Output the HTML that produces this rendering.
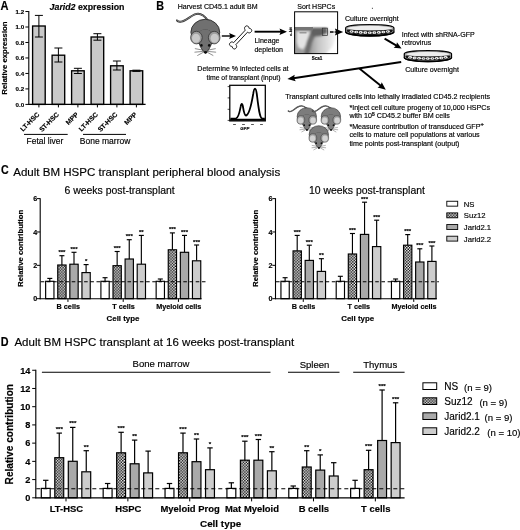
<!DOCTYPE html>
<html lang="en"><head><meta charset="utf-8"><title>Figure: Jarid2 expression and HSPC transplant analysis</title>
<style>html,body{margin:0;padding:0;background:#fff;}body{width:520px;height:530px;overflow:hidden;}svg{display:block;}svg text{font-family:"Liberation Sans", sans-serif;fill:#000;stroke:#000;stroke-width:0.16px;}</style></head><body>
<svg width="520" height="530" viewBox="0 0 520 530">
<defs><pattern id="chk" width="2.84" height="2.84" patternUnits="userSpaceOnUse"><rect width="2.84" height="2.84" fill="#fff"/><rect x="0" y="0" width="1.42" height="1.42" fill="#000"/><rect x="1.42" y="1.42" width="1.42" height="1.42" fill="#000"/></pattern><filter id="blur1" x="-10%" y="-10%" width="120%" height="120%"><feGaussianBlur stdDeviation="1.0"/></filter><filter id="blur0" x="-10%" y="-50%" width="120%" height="200%"><feGaussianBlur stdDeviation="0.55"/></filter><filter id="soft" x="0" y="0" width="520" height="530" filterUnits="userSpaceOnUse"><feGaussianBlur stdDeviation="0.38"/></filter></defs>
<rect width="520" height="530" fill="#fff"/>
<g filter="url(#soft)">
<g id="panelA">
<text x="0.40" y="9.50" font-size="12.2" font-weight="bold" stroke="#000" stroke-width="0.3" textLength="8.00" lengthAdjust="spacingAndGlyphs">A</text>
<text x="49.6" y="9.6" font-size="8.8" font-weight="bold"><tspan font-style="italic">Jarid2</tspan> expression</text>
<rect x="32.60" y="26.00" width="12.60" height="78.40" fill="#c9c9c9" stroke="#000" stroke-width="1.35"/>
<line x1="38.90" y1="15.40" x2="38.90" y2="37.00" stroke="#000" stroke-width="1.0" />
<line x1="34.90" y1="15.40" x2="42.90" y2="15.40" stroke="#000" stroke-width="1.0" />
<line x1="34.90" y1="37.00" x2="42.90" y2="37.00" stroke="#000" stroke-width="1.0" />
<line x1="38.90" y1="104.40" x2="38.90" y2="107.40" stroke="#000" stroke-width="1.0" />
<text transform="translate(39.80,115.00) rotate(-45)" font-size="6.7" font-weight="bold" stroke="#000" stroke-width="0.3" text-anchor="end">LT-HSC</text>
<rect x="52.10" y="55.20" width="12.60" height="49.20" fill="#c9c9c9" stroke="#000" stroke-width="1.35"/>
<line x1="58.40" y1="48.00" x2="58.40" y2="62.00" stroke="#000" stroke-width="1.0" />
<line x1="54.40" y1="48.00" x2="62.40" y2="48.00" stroke="#000" stroke-width="1.0" />
<line x1="54.40" y1="62.00" x2="62.40" y2="62.00" stroke="#000" stroke-width="1.0" />
<line x1="58.40" y1="104.40" x2="58.40" y2="107.40" stroke="#000" stroke-width="1.0" />
<text transform="translate(59.30,115.00) rotate(-45)" font-size="6.7" font-weight="bold" stroke="#000" stroke-width="0.3" text-anchor="end">ST-HSC</text>
<rect x="71.60" y="70.80" width="12.60" height="33.60" fill="#c9c9c9" stroke="#000" stroke-width="1.35"/>
<line x1="77.90" y1="68.30" x2="77.90" y2="73.50" stroke="#000" stroke-width="1.0" />
<line x1="73.90" y1="68.30" x2="81.90" y2="68.30" stroke="#000" stroke-width="1.0" />
<line x1="73.90" y1="73.50" x2="81.90" y2="73.50" stroke="#000" stroke-width="1.0" />
<line x1="77.90" y1="104.40" x2="77.90" y2="107.40" stroke="#000" stroke-width="1.0" />
<text transform="translate(78.80,115.00) rotate(-45)" font-size="6.7" font-weight="bold" stroke="#000" stroke-width="0.3" text-anchor="end">MPP</text>
<rect x="91.10" y="37.00" width="12.60" height="67.40" fill="#c9c9c9" stroke="#000" stroke-width="1.35"/>
<line x1="97.40" y1="33.70" x2="97.40" y2="40.20" stroke="#000" stroke-width="1.0" />
<line x1="93.40" y1="33.70" x2="101.40" y2="33.70" stroke="#000" stroke-width="1.0" />
<line x1="93.40" y1="40.20" x2="101.40" y2="40.20" stroke="#000" stroke-width="1.0" />
<line x1="97.40" y1="104.40" x2="97.40" y2="107.40" stroke="#000" stroke-width="1.0" />
<text transform="translate(98.30,115.00) rotate(-45)" font-size="6.7" font-weight="bold" stroke="#000" stroke-width="0.3" text-anchor="end">LT-HSC</text>
<rect x="110.60" y="65.80" width="12.60" height="38.60" fill="#c9c9c9" stroke="#000" stroke-width="1.35"/>
<line x1="116.90" y1="61.00" x2="116.90" y2="70.00" stroke="#000" stroke-width="1.0" />
<line x1="112.90" y1="61.00" x2="120.90" y2="61.00" stroke="#000" stroke-width="1.0" />
<line x1="112.90" y1="70.00" x2="120.90" y2="70.00" stroke="#000" stroke-width="1.0" />
<line x1="116.90" y1="104.40" x2="116.90" y2="107.40" stroke="#000" stroke-width="1.0" />
<text transform="translate(117.80,115.00) rotate(-45)" font-size="6.7" font-weight="bold" stroke="#000" stroke-width="0.3" text-anchor="end">ST-HSC</text>
<rect x="130.10" y="70.80" width="12.60" height="33.60" fill="#c9c9c9" stroke="#000" stroke-width="1.35"/>
<line x1="136.40" y1="70.20" x2="136.40" y2="71.40" stroke="#000" stroke-width="1.0" />
<line x1="132.40" y1="70.20" x2="140.40" y2="70.20" stroke="#000" stroke-width="1.0" />
<line x1="132.40" y1="71.40" x2="140.40" y2="71.40" stroke="#000" stroke-width="1.0" />
<line x1="136.40" y1="104.40" x2="136.40" y2="107.40" stroke="#000" stroke-width="1.0" />
<text transform="translate(137.30,115.00) rotate(-45)" font-size="6.7" font-weight="bold" stroke="#000" stroke-width="0.3" text-anchor="end">MPP</text>
<line x1="28.80" y1="11.00" x2="28.80" y2="104.90" stroke="#000" stroke-width="1.1" />
<line x1="28.30" y1="104.40" x2="145.60" y2="104.40" stroke="#000" stroke-width="1.1" />
<line x1="25.40" y1="104.40" x2="28.80" y2="104.40" stroke="#000" stroke-width="1.0" />
<text x="24.20" y="106.60" font-size="6.2" font-weight="bold" stroke="#000" stroke-width="0.3" text-anchor="end">0.0</text>
<line x1="25.40" y1="88.92" x2="28.80" y2="88.92" stroke="#000" stroke-width="1.0" />
<text x="24.20" y="91.12" font-size="6.2" font-weight="bold" stroke="#000" stroke-width="0.3" text-anchor="end">0.2</text>
<line x1="25.40" y1="73.44" x2="28.80" y2="73.44" stroke="#000" stroke-width="1.0" />
<text x="24.20" y="75.64" font-size="6.2" font-weight="bold" stroke="#000" stroke-width="0.3" text-anchor="end">0.4</text>
<line x1="25.40" y1="57.96" x2="28.80" y2="57.96" stroke="#000" stroke-width="1.0" />
<text x="24.20" y="60.16" font-size="6.2" font-weight="bold" stroke="#000" stroke-width="0.3" text-anchor="end">0.6</text>
<line x1="25.40" y1="42.48" x2="28.80" y2="42.48" stroke="#000" stroke-width="1.0" />
<text x="24.20" y="44.68" font-size="6.2" font-weight="bold" stroke="#000" stroke-width="0.3" text-anchor="end">0.8</text>
<line x1="25.40" y1="27.00" x2="28.80" y2="27.00" stroke="#000" stroke-width="1.0" />
<text x="24.20" y="29.20" font-size="6.2" font-weight="bold" stroke="#000" stroke-width="0.3" text-anchor="end">1.0</text>
<line x1="25.40" y1="11.52" x2="28.80" y2="11.52" stroke="#000" stroke-width="1.0" />
<text x="24.20" y="13.72" font-size="6.2" font-weight="bold" stroke="#000" stroke-width="0.3" text-anchor="end">1.2</text>
<text transform="translate(6.5,58) rotate(-90)" font-size="7.8" font-weight="bold" stroke="#000" stroke-width="0.3" text-anchor="middle">Relative expression</text>
<line x1="24.00" y1="134.40" x2="67.70" y2="134.40" stroke="#000" stroke-width="1.0" />
<line x1="83.00" y1="134.40" x2="126.00" y2="134.40" stroke="#000" stroke-width="1.0" />
<text x="26.50" y="143.60" font-size="8.5">Fetal liver</text>
<text x="79.80" y="143.60" font-size="8.5">Bone marrow</text>
</g>
<g id="panelB">
<text x="156.20" y="9.50" font-size="12.2" font-weight="bold" stroke="#000" stroke-width="0.3" textLength="7.80" lengthAdjust="spacingAndGlyphs">B</text>
<text x="177.70" y="8.90" font-size="7.05">Harvest CD45.1 adult BM</text>
<g transform="translate(205.30,33.00) scale(1.0)">
<path d="M2.5,-12.6 C-1,-17.5 -6,-20.6 -10.5,-18.6 C-16,-16 -19.5,-12.2 -24,-11.4 C-26,-11.0 -27.6,-11.4 -28.4,-12.6" fill="none" stroke="#2a2a2a" stroke-width="1.9" stroke-linecap="round"/>
<path d="M2.5,-12.6 C-1,-17.5 -6,-20.6 -10.5,-18.6 C-16,-16 -19.5,-12.2 -24,-11.4 C-26,-11.0 -27.6,-11.4 -28.4,-12.6" fill="none" stroke="#9a9a9a" stroke-width="0.8" stroke-linecap="round"/>
<ellipse cx="0" cy="-0.8" rx="14.4" ry="12.9" fill="#707070" stroke="#2a2a2a" stroke-width="0.9"/>
<path d="M-6.6,1.5 C-6.6,-4.5 6.6,-4.5 6.6,1.5 C7.6,8 6,14.5 0.2,20.6 C-6,14.5 -7.6,8 -6.6,1.5 Z" fill="#707070" stroke="#2a2a2a" stroke-width="0.8"/>
<path d="M-6.0,-0.5 C-5,-4.6 5,-4.6 6.0,-0.5 L5,3 L-5,3 Z" fill="#707070"/>
<ellipse cx="-8.9" cy="4.6" rx="5.8" ry="6.3" fill="#9c9c9c" stroke="#2a2a2a" stroke-width="0.7"/>
<ellipse cx="-9.3" cy="5.3" rx="4.0" ry="4.5" fill="#c9c9c9"/>
<ellipse cx="8.9" cy="4.6" rx="5.8" ry="6.3" fill="#9c9c9c" stroke="#2a2a2a" stroke-width="0.7"/>
<ellipse cx="9.3" cy="5.3" rx="4.0" ry="4.5" fill="#c9c9c9"/>
<circle cx="-3.9" cy="12.4" r="1.3" fill="#111"/><circle cx="3.9" cy="12.4" r="1.3" fill="#111"/>
<ellipse cx="0.2" cy="19.2" rx="1.7" ry="1.3" fill="#111"/>
<path d="M-2.2,17.2 L-10.4,15.6 M-2.2,18.4 L-10.8,19.2 M-2.2,19.4 L-8.0,22.6" stroke="#333" stroke-width="0.55" fill="none"/>
<path d="M2.2,17.2 L10.4,15.6 M2.2,18.4 L10.8,19.2 M2.2,19.4 L8.0,22.6" stroke="#333" stroke-width="0.55" fill="none"/>
</g>
<line x1="221.80" y1="36.00" x2="231.00" y2="36.00" stroke="#000" stroke-width="1.4" />
<polygon points="236.00,36.00 229.10,39.00 230.30,36.00 229.10,33.00" fill="#000"/>
<g transform="translate(240.6,37.4) rotate(-47) scale(0.9,0.88)"><path d="M-9.6,-1.7 L9.6,-1.7 C9.4,-5.6 15.6,-5.4 14.6,-1.6 C14.3,-0.6 13.8,0 13.8,0 C13.8,0 14.3,0.6 14.6,1.6 C15.6,5.4 9.4,5.6 9.6,1.7 L-9.6,1.7 C-9.4,5.6 -15.6,5.4 -14.6,1.6 C-14.3,0.6 -13.8,0 -13.8,0 C-13.8,0 -14.3,-0.6 -14.6,-1.6 C-15.6,-5.4 -9.4,-5.6 -9.6,-1.7 Z" fill="#fff" stroke="#111" stroke-width="1.0"/></g>
<line x1="254.60" y1="31.70" x2="281.40" y2="31.70" stroke="#000" stroke-width="1.9" />
<polygon points="287.00,31.70 279.50,34.90 280.70,31.70 279.50,28.50" fill="#000"/>
<text x="254.40" y="43.40" font-size="7.05">Lineage</text>
<text x="254.40" y="52.10" font-size="7.05">depletion</text>
<text x="297.20" y="9.20" font-size="7.05">Sort HSPCs</text>
<clipPath id="fc"><rect x="294.6" y="26.4" width="43.00" height="26.90"/></clipPath>
<linearGradient id="fg" x1="311" y1="0" x2="336" y2="0" gradientUnits="userSpaceOnUse"><stop offset="0" stop-color="#a0a0a0"/><stop offset="0.3" stop-color="#c6c6c6"/><stop offset="1" stop-color="#f6f6f6"/></linearGradient>
<g clip-path="url(#fc)"><g filter="url(#blur1)">
<polygon points="312,31 334,30 336,38 332,47 325,55 306,55" fill="url(#fg)"/>
<polygon points="293,28 313,28 307,55 293,55" fill="#9c9c9c"/>
<polygon points="296.8,31.6 310,31.8 306.4,44 303,49.6 298.4,47.6 296.8,42" fill="#e4e4e4"/>
<polygon points="310.8,32 316.6,33 312.4,42 309.0,55 304.0,55 306.6,42" fill="#6e6e6e"/>
<polygon points="312,27.4 327,27.4 327.6,33 321,36.2 313,36.8 310.6,32" fill="#606060"/>
</g>
<g filter="url(#blur0)">
<rect x="293" y="27.0" width="20" height="3.3" fill="#757575"/>
<rect x="299.5" y="32.2" width="7" height="1.2" fill="#8a8a8a"/>
</g></g>
<rect x="294.60" y="11.80" width="43.00" height="41.80" fill="none" stroke="#000" stroke-width="1.0"/>
<rect x="322.30" y="28.20" width="5.20" height="7.20" fill="none" stroke="#333" stroke-width="0.7"/>
<text transform="translate(292.0,31.7) rotate(-90)" font-size="4.2" font-weight="bold" text-anchor="middle">c-kit</text>
<text x="316.90" y="60.30" font-size="4.5" font-weight="bold" stroke="#000" stroke-width="0.3" text-anchor="middle">Sca1</text>
<line x1="330.00" y1="32.10" x2="336.80" y2="32.10" stroke="#000" stroke-width="1.5" stroke-dasharray="3.6 1.0"/>
<polygon points="343.20,32.10 334.90,35.60 336.10,32.10 334.90,28.60" fill="#000"/>
<text x="345.00" y="20.90" font-size="7.05">Culture overnight</text>
<rect x="371.9" y="7.8" width="1" height="1" fill="#333"/>
<path d="M345.70,27.92 A24.10,3.42 0 0 1 393.90,27.92 L393.90,31.68 A24.10,4.22 0 0 1 345.70,31.68 Z" fill="#d2d2d2" stroke="#000" stroke-width="1.25"/>
<ellipse cx="369.80" cy="28.22" rx="23.00" ry="2.92" fill="#ededed" stroke="#555" stroke-width="0.5"/>
<path d="M346.80,29.52 Q369.80,31.72 392.80,29.52 L392.80,31.08 A23.00,4.02 0 0 1 346.80,31.08 Z" fill="#161616"/>
<ellipse cx="351.67" cy="31.47" rx="2.0" ry="1.3" fill="#ececec"/>
<circle cx="351.37" cy="31.57" r="0.5" fill="#333"/>
<ellipse cx="356.20" cy="32.01" rx="2.0" ry="1.3" fill="#ececec"/>
<circle cx="356.50" cy="32.11" r="0.5" fill="#333"/>
<ellipse cx="360.73" cy="32.40" rx="2.0" ry="1.3" fill="#ececec"/>
<circle cx="360.43" cy="32.50" r="0.5" fill="#333"/>
<ellipse cx="365.27" cy="32.64" rx="2.0" ry="1.3" fill="#ececec"/>
<circle cx="365.57" cy="32.74" r="0.5" fill="#333"/>
<ellipse cx="369.80" cy="32.72" rx="2.0" ry="1.3" fill="#ececec"/>
<circle cx="369.50" cy="32.82" r="0.5" fill="#333"/>
<ellipse cx="374.33" cy="32.64" rx="2.0" ry="1.3" fill="#ececec"/>
<circle cx="374.63" cy="32.74" r="0.5" fill="#333"/>
<ellipse cx="378.87" cy="32.40" rx="2.0" ry="1.3" fill="#ececec"/>
<circle cx="378.57" cy="32.50" r="0.5" fill="#333"/>
<ellipse cx="383.40" cy="32.01" rx="2.0" ry="1.3" fill="#ececec"/>
<circle cx="383.70" cy="32.11" r="0.5" fill="#333"/>
<ellipse cx="387.93" cy="31.47" rx="2.0" ry="1.3" fill="#ececec"/>
<circle cx="387.63" cy="31.57" r="0.5" fill="#333"/>
<path d="M345.70,31.68 A24.10,4.22 0 0 0 393.90,31.68" fill="none" stroke="#000" stroke-width="1.6"/>
<line x1="384.60" y1="38.60" x2="396.95" y2="45.86" stroke="#000" stroke-width="1.9" />
<polygon points="401.60,48.60 393.69,47.66 396.34,45.51 396.93,42.14" fill="#000"/>
<text x="401.80" y="37.00" font-size="7.05">Infect with shRNA-GFP</text>
<text x="401.80" y="45.10" font-size="7.05">retrovirus</text>
<path d="M404.30,53.87 A23.60,3.27 0 0 1 451.50,53.87 L451.50,57.43 A23.60,4.07 0 0 1 404.30,57.43 Z" fill="#d2d2d2" stroke="#000" stroke-width="1.25"/>
<ellipse cx="427.90" cy="54.17" rx="22.50" ry="2.77" fill="#ededed" stroke="#555" stroke-width="0.5"/>
<path d="M405.40,55.40 Q427.90,57.60 450.40,55.40 L450.40,56.83 A22.50,3.87 0 0 1 405.40,56.83 Z" fill="#161616"/>
<ellipse cx="410.21" cy="57.36" rx="2.0" ry="1.3" fill="#ececec"/>
<circle cx="409.91" cy="57.46" r="0.5" fill="#333"/>
<ellipse cx="414.63" cy="57.90" rx="2.0" ry="1.3" fill="#ececec"/>
<circle cx="414.93" cy="58.00" r="0.5" fill="#333"/>
<ellipse cx="419.06" cy="58.29" rx="2.0" ry="1.3" fill="#ececec"/>
<circle cx="418.76" cy="58.39" r="0.5" fill="#333"/>
<ellipse cx="423.48" cy="58.52" rx="2.0" ry="1.3" fill="#ececec"/>
<circle cx="423.78" cy="58.62" r="0.5" fill="#333"/>
<ellipse cx="427.90" cy="58.60" rx="2.0" ry="1.3" fill="#ececec"/>
<circle cx="427.60" cy="58.70" r="0.5" fill="#333"/>
<ellipse cx="432.32" cy="58.52" rx="2.0" ry="1.3" fill="#ececec"/>
<circle cx="432.62" cy="58.62" r="0.5" fill="#333"/>
<ellipse cx="436.74" cy="58.29" rx="2.0" ry="1.3" fill="#ececec"/>
<circle cx="436.44" cy="58.39" r="0.5" fill="#333"/>
<ellipse cx="441.17" cy="57.90" rx="2.0" ry="1.3" fill="#ececec"/>
<circle cx="441.47" cy="58.00" r="0.5" fill="#333"/>
<ellipse cx="445.59" cy="57.36" rx="2.0" ry="1.3" fill="#ececec"/>
<circle cx="445.29" cy="57.46" r="0.5" fill="#333"/>
<path d="M404.30,57.43 A23.60,4.07 0 0 0 451.50,57.43" fill="none" stroke="#000" stroke-width="1.6"/>
<text x="405.20" y="72.10" font-size="7.05">Culture overnight</text>
<line x1="401.20" y1="62.00" x2="293.33" y2="78.21" stroke="#000" stroke-width="1.9" />
<polygon points="287.40,79.10 294.72,74.66 294.03,78.10 295.70,81.19" fill="#000"/>
<line x1="359.40" y1="68.60" x2="381.12" y2="86.04" stroke="#000" stroke-width="1.9" />
<polygon points="385.80,89.80 377.57,87.43 380.58,85.60 381.71,82.28" fill="#000"/>
<text x="197.30" y="71.00" font-size="7.05">Determine % infected cells at</text>
<text x="206.50" y="79.70" font-size="7.05" textLength="74.00" lengthAdjust="spacingAndGlyphs">time of transplant (input)</text>
<rect x="229.80" y="85.30" width="35.50" height="35.60" fill="#fff" stroke="#000" stroke-width="1.25"/>
<line x1="227.60" y1="86.60" x2="229.80" y2="86.60" stroke="#000" stroke-width="0.7" />
<line x1="227.60" y1="97.90" x2="229.80" y2="97.90" stroke="#000" stroke-width="0.7" />
<line x1="227.60" y1="109.30" x2="229.80" y2="109.30" stroke="#000" stroke-width="0.7" />
<line x1="227.60" y1="120.40" x2="229.80" y2="120.40" stroke="#000" stroke-width="0.7" />
<path d="M230.5,118.6 L236,118.4 C238.5,118 239.6,112 240.6,107 C241.3,103 242.3,103 243,107 C243.8,112 244.6,115.5 246,115.5 C249,115 251.5,104 253.2,94 C254.2,87 255.8,87 256.8,94 C258.3,106 259.5,117.5 262,118.4 L264.8,118.6" fill="none" stroke="#000" stroke-width="1.8" stroke-linejoin="round"/>
<line x1="230.20" y1="119.70" x2="265.00" y2="119.70" stroke="#000" stroke-width="1.9" />
<text x="234.50" y="124.60" font-size="2.4" text-anchor="middle" fill="#666" stroke="none">10</text>
<text x="243.50" y="124.60" font-size="2.4" text-anchor="middle" fill="#666" stroke="none">10</text>
<text x="252.50" y="124.60" font-size="2.4" text-anchor="middle" fill="#666" stroke="none">10</text>
<text x="261.50" y="124.60" font-size="2.4" text-anchor="middle" fill="#666" stroke="none">10</text>
<text x="244.80" y="129.70" font-size="4.4" font-weight="bold" stroke="#000" stroke-width="0.3" font-style="italic" text-anchor="middle">GFP</text>
<text x="285.20" y="98.60" font-size="7.05" textLength="204.80" lengthAdjust="spacingAndGlyphs">Transplant cultured cells into lethally irradiated CD45.2 recipients</text>
<g transform="translate(306.80,116.90) scale(0.67)">
<path d="M-0.5,-12.8 C-3.5,-15.8 -8,-17.2 -11.5,-15.8 C-17,-13.6 -20,-9.4 -24,-8.2 C-25.6,-7.8 -26.8,-8.0 -27.6,-8.8" fill="none" stroke="#2a2a2a" stroke-width="1.9" stroke-linecap="round"/>
<path d="M-0.5,-12.8 C-3.5,-15.8 -8,-17.2 -11.5,-15.8 C-17,-13.6 -20,-9.4 -24,-8.2 C-25.6,-7.8 -26.8,-8.0 -27.6,-8.8" fill="none" stroke="#9a9a9a" stroke-width="0.8" stroke-linecap="round"/>
<ellipse cx="0" cy="-0.8" rx="14.4" ry="12.9" fill="#7c7c7c" stroke="#2a2a2a" stroke-width="0.9"/>
<path d="M-6.6,1.5 C-6.6,-4.5 6.6,-4.5 6.6,1.5 C7.6,8 6,14.5 0.2,20.6 C-6,14.5 -7.6,8 -6.6,1.5 Z" fill="#7c7c7c" stroke="#2a2a2a" stroke-width="0.8"/>
<path d="M-6.0,-0.5 C-5,-4.6 5,-4.6 6.0,-0.5 L5,3 L-5,3 Z" fill="#7c7c7c"/>
<ellipse cx="-8.9" cy="4.6" rx="5.8" ry="6.3" fill="#a4a4a4" stroke="#2a2a2a" stroke-width="0.7"/>
<ellipse cx="-9.3" cy="5.3" rx="4.0" ry="4.5" fill="#d2d2d2"/>
<ellipse cx="8.9" cy="4.6" rx="5.8" ry="6.3" fill="#a4a4a4" stroke="#2a2a2a" stroke-width="0.7"/>
<ellipse cx="9.3" cy="5.3" rx="4.0" ry="4.5" fill="#d2d2d2"/>
<circle cx="-3.9" cy="12.4" r="1.3" fill="#111"/><circle cx="3.9" cy="12.4" r="1.3" fill="#111"/>
<ellipse cx="0.2" cy="19.2" rx="1.7" ry="1.3" fill="#111"/>
<path d="M-2.2,17.2 L-10.4,15.6 M-2.2,18.4 L-10.8,19.2 M-2.2,19.4 L-8.0,22.6" stroke="#333" stroke-width="0.55" fill="none"/>
<path d="M2.2,17.2 L10.4,15.6 M2.2,18.4 L10.8,19.2 M2.2,19.4 L8.0,22.6" stroke="#333" stroke-width="0.55" fill="none"/>
</g>
<g transform="translate(330.90,116.90) scale(0.67)">
<path d="M-0.5,-12.8 C-3.5,-15.8 -8,-17.2 -11.5,-15.8 C-17,-13.6 -20,-9.4 -24,-8.2 C-25.6,-7.8 -26.8,-8.0 -27.6,-8.8" fill="none" stroke="#2a2a2a" stroke-width="1.9" stroke-linecap="round"/>
<path d="M-0.5,-12.8 C-3.5,-15.8 -8,-17.2 -11.5,-15.8 C-17,-13.6 -20,-9.4 -24,-8.2 C-25.6,-7.8 -26.8,-8.0 -27.6,-8.8" fill="none" stroke="#9a9a9a" stroke-width="0.8" stroke-linecap="round"/>
<ellipse cx="0" cy="-0.8" rx="14.4" ry="12.9" fill="#7c7c7c" stroke="#2a2a2a" stroke-width="0.9"/>
<path d="M-6.6,1.5 C-6.6,-4.5 6.6,-4.5 6.6,1.5 C7.6,8 6,14.5 0.2,20.6 C-6,14.5 -7.6,8 -6.6,1.5 Z" fill="#7c7c7c" stroke="#2a2a2a" stroke-width="0.8"/>
<path d="M-6.0,-0.5 C-5,-4.6 5,-4.6 6.0,-0.5 L5,3 L-5,3 Z" fill="#7c7c7c"/>
<ellipse cx="-8.9" cy="4.6" rx="5.8" ry="6.3" fill="#a4a4a4" stroke="#2a2a2a" stroke-width="0.7"/>
<ellipse cx="-9.3" cy="5.3" rx="4.0" ry="4.5" fill="#d2d2d2"/>
<ellipse cx="8.9" cy="4.6" rx="5.8" ry="6.3" fill="#a4a4a4" stroke="#2a2a2a" stroke-width="0.7"/>
<ellipse cx="9.3" cy="5.3" rx="4.0" ry="4.5" fill="#d2d2d2"/>
<circle cx="-3.9" cy="12.4" r="1.3" fill="#111"/><circle cx="3.9" cy="12.4" r="1.3" fill="#111"/>
<ellipse cx="0.2" cy="19.2" rx="1.7" ry="1.3" fill="#111"/>
<path d="M-2.2,17.2 L-10.4,15.6 M-2.2,18.4 L-10.8,19.2 M-2.2,19.4 L-8.0,22.6" stroke="#333" stroke-width="0.55" fill="none"/>
<path d="M2.2,17.2 L10.4,15.6 M2.2,18.4 L10.8,19.2 M2.2,19.4 L8.0,22.6" stroke="#333" stroke-width="0.55" fill="none"/>
</g>
<g transform="translate(318.80,134.90) scale(0.67)">
<ellipse cx="0" cy="-0.8" rx="14.4" ry="12.9" fill="#7c7c7c" stroke="#2a2a2a" stroke-width="0.9"/>
<path d="M-6.6,1.5 C-6.6,-4.5 6.6,-4.5 6.6,1.5 C7.6,8 6,14.5 0.2,20.6 C-6,14.5 -7.6,8 -6.6,1.5 Z" fill="#7c7c7c" stroke="#2a2a2a" stroke-width="0.8"/>
<path d="M-6.0,-0.5 C-5,-4.6 5,-4.6 6.0,-0.5 L5,3 L-5,3 Z" fill="#7c7c7c"/>
<ellipse cx="-8.9" cy="4.6" rx="5.8" ry="6.3" fill="#a4a4a4" stroke="#2a2a2a" stroke-width="0.7"/>
<ellipse cx="-9.3" cy="5.3" rx="4.0" ry="4.5" fill="#d2d2d2"/>
<ellipse cx="8.9" cy="4.6" rx="5.8" ry="6.3" fill="#a4a4a4" stroke="#2a2a2a" stroke-width="0.7"/>
<ellipse cx="9.3" cy="5.3" rx="4.0" ry="4.5" fill="#d2d2d2"/>
<circle cx="-3.9" cy="12.4" r="1.3" fill="#111"/><circle cx="3.9" cy="12.4" r="1.3" fill="#111"/>
<ellipse cx="0.2" cy="19.2" rx="1.7" ry="1.3" fill="#111"/>
<path d="M-2.2,17.2 L-10.4,15.6 M-2.2,18.4 L-10.8,19.2 M-2.2,19.4 L-8.0,22.6" stroke="#333" stroke-width="0.55" fill="none"/>
<path d="M2.2,17.2 L10.4,15.6 M2.2,18.4 L10.8,19.2 M2.2,19.4 L8.0,22.6" stroke="#333" stroke-width="0.55" fill="none"/>
</g>
<text x="349.40" y="109.60" font-size="7.13">*Inject cell culture progeny of 10,000 HSPCs</text>
<text x="349.4" y="118.2" font-size="7.13">with 10<tspan font-size="5" font-weight="bold" dy="-2.7">5</tspan><tspan dy="2.7"> CD45.2 buffer BM cells</tspan></text>
<text x="349.4" y="128.6" font-size="7.13">*Measure contribution of transduced GFP<tspan font-size="5.6" font-weight="bold" dy="-2.4">+</tspan></text>
<text x="349.40" y="137.30" font-size="7.13">cells to mature cell populations at various</text>
<text x="349.40" y="145.90" font-size="7.13">time points post-transplant (output)</text>
</g>
<g id="panelC">
<text x="0.90" y="174.40" font-size="12.2" font-weight="bold" stroke="#000" stroke-width="0.3" textLength="7.70" lengthAdjust="spacingAndGlyphs">C</text>
<text x="13.20" y="175.70" font-size="11.56" stroke-width="0.3">Adult BM HSPC transplant peripheral blood analysis</text>
<text x="64.50" y="193.80" font-size="10.45" stroke-width="0.26">6 weeks post-transplant</text>
<line x1="49.80" y1="278.40" x2="49.80" y2="281.30" stroke="#000" stroke-width="1.15" />
<line x1="47.30" y1="278.40" x2="52.30" y2="278.40" stroke="#000" stroke-width="1.15" />
<rect x="45.65" y="281.30" width="8.30" height="17.40" fill="#ffffff" stroke="#000" stroke-width="1.15"/>
<line x1="61.90" y1="255.70" x2="61.90" y2="265.00" stroke="#000" stroke-width="1.15" />
<line x1="59.40" y1="255.70" x2="64.40" y2="255.70" stroke="#000" stroke-width="1.15" />
<rect x="57.75" y="265.00" width="8.30" height="33.70" fill="url(#chk)" stroke="#000" stroke-width="1.15"/>
<text x="61.90" y="254.20" font-size="6.0" font-weight="bold" stroke="#000" stroke-width="0.3" text-anchor="middle">***</text>
<line x1="74.00" y1="252.30" x2="74.00" y2="264.20" stroke="#000" stroke-width="1.15" />
<line x1="71.50" y1="252.30" x2="76.50" y2="252.30" stroke="#000" stroke-width="1.15" />
<rect x="69.85" y="264.20" width="8.30" height="34.50" fill="#a9a9a9" stroke="#000" stroke-width="1.15"/>
<text x="74.00" y="250.80" font-size="6.0" font-weight="bold" stroke="#000" stroke-width="0.3" text-anchor="middle">***</text>
<line x1="86.10" y1="264.60" x2="86.10" y2="272.60" stroke="#000" stroke-width="1.15" />
<line x1="83.60" y1="264.60" x2="88.60" y2="264.60" stroke="#000" stroke-width="1.15" />
<rect x="81.95" y="272.60" width="8.30" height="26.10" fill="#cdcdcd" stroke="#000" stroke-width="1.15"/>
<text x="86.10" y="263.10" font-size="6.0" font-weight="bold" stroke="#000" stroke-width="0.3" text-anchor="middle">*</text>
<line x1="105.05" y1="277.70" x2="105.05" y2="281.30" stroke="#000" stroke-width="1.15" />
<line x1="102.55" y1="277.70" x2="107.55" y2="277.70" stroke="#000" stroke-width="1.15" />
<rect x="100.90" y="281.30" width="8.30" height="17.40" fill="#ffffff" stroke="#000" stroke-width="1.15"/>
<line x1="117.15" y1="251.50" x2="117.15" y2="265.70" stroke="#000" stroke-width="1.15" />
<line x1="114.65" y1="251.50" x2="119.65" y2="251.50" stroke="#000" stroke-width="1.15" />
<rect x="113.00" y="265.70" width="8.30" height="33.00" fill="url(#chk)" stroke="#000" stroke-width="1.15"/>
<text x="117.15" y="250.00" font-size="6.0" font-weight="bold" stroke="#000" stroke-width="0.3" text-anchor="middle">***</text>
<line x1="129.25" y1="239.70" x2="129.25" y2="259.00" stroke="#000" stroke-width="1.15" />
<line x1="126.75" y1="239.70" x2="131.75" y2="239.70" stroke="#000" stroke-width="1.15" />
<rect x="125.10" y="259.00" width="8.30" height="39.70" fill="#a9a9a9" stroke="#000" stroke-width="1.15"/>
<text x="129.25" y="238.20" font-size="6.0" font-weight="bold" stroke="#000" stroke-width="0.3" text-anchor="middle">***</text>
<line x1="141.35" y1="235.40" x2="141.35" y2="264.20" stroke="#000" stroke-width="1.15" />
<line x1="138.85" y1="235.40" x2="143.85" y2="235.40" stroke="#000" stroke-width="1.15" />
<rect x="137.20" y="264.20" width="8.30" height="34.50" fill="#cdcdcd" stroke="#000" stroke-width="1.15"/>
<text x="141.35" y="233.90" font-size="6.0" font-weight="bold" stroke="#000" stroke-width="0.3" text-anchor="middle">**</text>
<line x1="160.30" y1="279.00" x2="160.30" y2="281.30" stroke="#000" stroke-width="1.15" />
<line x1="157.80" y1="279.00" x2="162.80" y2="279.00" stroke="#000" stroke-width="1.15" />
<rect x="156.15" y="281.30" width="8.30" height="17.40" fill="#ffffff" stroke="#000" stroke-width="1.15"/>
<line x1="172.40" y1="232.90" x2="172.40" y2="249.80" stroke="#000" stroke-width="1.15" />
<line x1="169.90" y1="232.90" x2="174.90" y2="232.90" stroke="#000" stroke-width="1.15" />
<rect x="168.25" y="249.80" width="8.30" height="48.90" fill="url(#chk)" stroke="#000" stroke-width="1.15"/>
<text x="172.40" y="231.40" font-size="6.0" font-weight="bold" stroke="#000" stroke-width="0.3" text-anchor="middle">***</text>
<line x1="184.50" y1="235.40" x2="184.50" y2="252.30" stroke="#000" stroke-width="1.15" />
<line x1="182.00" y1="235.40" x2="187.00" y2="235.40" stroke="#000" stroke-width="1.15" />
<rect x="180.35" y="252.30" width="8.30" height="46.40" fill="#a9a9a9" stroke="#000" stroke-width="1.15"/>
<text x="184.50" y="233.90" font-size="6.0" font-weight="bold" stroke="#000" stroke-width="0.3" text-anchor="middle">***</text>
<line x1="196.60" y1="245.00" x2="196.60" y2="260.80" stroke="#000" stroke-width="1.15" />
<line x1="194.10" y1="245.00" x2="199.10" y2="245.00" stroke="#000" stroke-width="1.15" />
<rect x="192.45" y="260.80" width="8.30" height="37.90" fill="#cdcdcd" stroke="#000" stroke-width="1.15"/>
<text x="196.60" y="243.50" font-size="6.0" font-weight="bold" stroke="#000" stroke-width="0.3" text-anchor="middle">***</text>
<line x1="40.70" y1="281.70" x2="205.60" y2="281.70" stroke="#000" stroke-width="1.1" stroke-dasharray="3.6 2.6"/>
<line x1="40.20" y1="198.20" x2="40.20" y2="299.20" stroke="#000" stroke-width="1.1" />
<line x1="39.70" y1="298.70" x2="201.60" y2="298.70" stroke="#000" stroke-width="1.1" />
<line x1="37.00" y1="298.70" x2="40.20" y2="298.70" stroke="#000" stroke-width="1.0" />
<text x="37.30" y="301.30" font-size="7.2" font-weight="bold" stroke="#000" stroke-width="0.3" text-anchor="end">0</text>
<line x1="37.00" y1="265.34" x2="40.20" y2="265.34" stroke="#000" stroke-width="1.0" />
<text x="37.30" y="267.94" font-size="7.2" font-weight="bold" stroke="#000" stroke-width="0.3" text-anchor="end">2</text>
<line x1="37.00" y1="231.98" x2="40.20" y2="231.98" stroke="#000" stroke-width="1.0" />
<text x="37.30" y="234.58" font-size="7.2" font-weight="bold" stroke="#000" stroke-width="0.3" text-anchor="end">4</text>
<line x1="37.00" y1="198.62" x2="40.20" y2="198.62" stroke="#000" stroke-width="1.0" />
<text x="37.30" y="201.22" font-size="7.2" font-weight="bold" stroke="#000" stroke-width="0.3" text-anchor="end">6</text>
<text transform="translate(23.00,248.4) rotate(-90)" font-size="7.75" font-weight="bold" stroke="#000" stroke-width="0.3" text-anchor="middle">Relative contribution</text>
<line x1="67.95" y1="298.70" x2="67.95" y2="301.90" stroke="#000" stroke-width="1.0" />
<text x="68.25" y="308.90" font-size="7.25" font-weight="bold" stroke="#000" stroke-width="0.3" text-anchor="middle">B cells</text>
<line x1="123.20" y1="298.70" x2="123.20" y2="301.90" stroke="#000" stroke-width="1.0" />
<text x="123.50" y="308.90" font-size="7.25" font-weight="bold" stroke="#000" stroke-width="0.3" text-anchor="middle">T cells</text>
<line x1="178.45" y1="298.70" x2="178.45" y2="301.90" stroke="#000" stroke-width="1.0" />
<text x="178.75" y="308.90" font-size="7.25" font-weight="bold" stroke="#000" stroke-width="0.3" text-anchor="middle">Myeloid cells</text>
<text x="123.00" y="321.30" font-size="7.9" font-weight="bold" stroke="#000" stroke-width="0.3" text-anchor="middle">Cell type</text>
<text x="308.90" y="193.80" font-size="10.45" stroke-width="0.26">10 weeks post-transplant</text>
<line x1="285.10" y1="277.70" x2="285.10" y2="281.30" stroke="#000" stroke-width="1.15" />
<line x1="282.60" y1="277.70" x2="287.60" y2="277.70" stroke="#000" stroke-width="1.15" />
<rect x="280.95" y="281.30" width="8.30" height="17.40" fill="#ffffff" stroke="#000" stroke-width="1.15"/>
<line x1="297.20" y1="235.40" x2="297.20" y2="250.90" stroke="#000" stroke-width="1.15" />
<line x1="294.70" y1="235.40" x2="299.70" y2="235.40" stroke="#000" stroke-width="1.15" />
<rect x="293.05" y="250.90" width="8.30" height="47.80" fill="url(#chk)" stroke="#000" stroke-width="1.15"/>
<text x="297.20" y="233.90" font-size="6.0" font-weight="bold" stroke="#000" stroke-width="0.3" text-anchor="middle">***</text>
<line x1="309.30" y1="245.20" x2="309.30" y2="260.40" stroke="#000" stroke-width="1.15" />
<line x1="306.80" y1="245.20" x2="311.80" y2="245.20" stroke="#000" stroke-width="1.15" />
<rect x="305.15" y="260.40" width="8.30" height="38.30" fill="#a9a9a9" stroke="#000" stroke-width="1.15"/>
<text x="309.30" y="243.70" font-size="6.0" font-weight="bold" stroke="#000" stroke-width="0.3" text-anchor="middle">***</text>
<line x1="321.40" y1="258.70" x2="321.40" y2="271.40" stroke="#000" stroke-width="1.15" />
<line x1="318.90" y1="258.70" x2="323.90" y2="258.70" stroke="#000" stroke-width="1.15" />
<rect x="317.25" y="271.40" width="8.30" height="27.30" fill="#cdcdcd" stroke="#000" stroke-width="1.15"/>
<text x="321.40" y="257.20" font-size="6.0" font-weight="bold" stroke="#000" stroke-width="0.3" text-anchor="middle">**</text>
<line x1="340.35" y1="276.30" x2="340.35" y2="281.30" stroke="#000" stroke-width="1.15" />
<line x1="337.85" y1="276.30" x2="342.85" y2="276.30" stroke="#000" stroke-width="1.15" />
<rect x="336.20" y="281.30" width="8.30" height="17.40" fill="#ffffff" stroke="#000" stroke-width="1.15"/>
<line x1="352.45" y1="233.50" x2="352.45" y2="254.00" stroke="#000" stroke-width="1.15" />
<line x1="349.95" y1="233.50" x2="354.95" y2="233.50" stroke="#000" stroke-width="1.15" />
<rect x="348.30" y="254.00" width="8.30" height="44.70" fill="url(#chk)" stroke="#000" stroke-width="1.15"/>
<text x="352.45" y="232.00" font-size="6.0" font-weight="bold" stroke="#000" stroke-width="0.3" text-anchor="middle">***</text>
<line x1="364.55" y1="202.20" x2="364.55" y2="234.40" stroke="#000" stroke-width="1.15" />
<line x1="362.05" y1="202.20" x2="367.05" y2="202.20" stroke="#000" stroke-width="1.15" />
<rect x="360.40" y="234.40" width="8.30" height="64.30" fill="#a9a9a9" stroke="#000" stroke-width="1.15"/>
<text x="364.55" y="200.70" font-size="6.0" font-weight="bold" stroke="#000" stroke-width="0.3" text-anchor="middle">***</text>
<line x1="376.65" y1="220.20" x2="376.65" y2="246.60" stroke="#000" stroke-width="1.15" />
<line x1="374.15" y1="220.20" x2="379.15" y2="220.20" stroke="#000" stroke-width="1.15" />
<rect x="372.50" y="246.60" width="8.30" height="52.10" fill="#cdcdcd" stroke="#000" stroke-width="1.15"/>
<text x="376.65" y="218.70" font-size="6.0" font-weight="bold" stroke="#000" stroke-width="0.3" text-anchor="middle">***</text>
<line x1="395.60" y1="279.00" x2="395.60" y2="281.30" stroke="#000" stroke-width="1.15" />
<line x1="393.10" y1="279.00" x2="398.10" y2="279.00" stroke="#000" stroke-width="1.15" />
<rect x="391.45" y="281.30" width="8.30" height="17.40" fill="#ffffff" stroke="#000" stroke-width="1.15"/>
<line x1="407.70" y1="234.60" x2="407.70" y2="245.20" stroke="#000" stroke-width="1.15" />
<line x1="405.20" y1="234.60" x2="410.20" y2="234.60" stroke="#000" stroke-width="1.15" />
<rect x="403.55" y="245.20" width="8.30" height="53.50" fill="url(#chk)" stroke="#000" stroke-width="1.15"/>
<text x="407.70" y="233.10" font-size="6.0" font-weight="bold" stroke="#000" stroke-width="0.3" text-anchor="middle">***</text>
<line x1="419.80" y1="248.80" x2="419.80" y2="262.00" stroke="#000" stroke-width="1.15" />
<line x1="417.30" y1="248.80" x2="422.30" y2="248.80" stroke="#000" stroke-width="1.15" />
<rect x="415.65" y="262.00" width="8.30" height="36.70" fill="#a9a9a9" stroke="#000" stroke-width="1.15"/>
<text x="419.80" y="247.30" font-size="6.0" font-weight="bold" stroke="#000" stroke-width="0.3" text-anchor="middle">***</text>
<line x1="431.90" y1="246.00" x2="431.90" y2="261.40" stroke="#000" stroke-width="1.15" />
<line x1="429.40" y1="246.00" x2="434.40" y2="246.00" stroke="#000" stroke-width="1.15" />
<rect x="427.75" y="261.40" width="8.30" height="37.30" fill="#cdcdcd" stroke="#000" stroke-width="1.15"/>
<text x="431.90" y="244.50" font-size="6.0" font-weight="bold" stroke="#000" stroke-width="0.3" text-anchor="middle">***</text>
<line x1="276.00" y1="281.70" x2="438.90" y2="281.70" stroke="#000" stroke-width="1.1" stroke-dasharray="3.6 2.6"/>
<line x1="275.50" y1="198.20" x2="275.50" y2="299.20" stroke="#000" stroke-width="1.1" />
<line x1="275.00" y1="298.70" x2="436.90" y2="298.70" stroke="#000" stroke-width="1.1" />
<line x1="272.30" y1="298.70" x2="275.50" y2="298.70" stroke="#000" stroke-width="1.0" />
<text x="272.60" y="301.30" font-size="7.2" font-weight="bold" stroke="#000" stroke-width="0.3" text-anchor="end">0</text>
<line x1="272.30" y1="265.34" x2="275.50" y2="265.34" stroke="#000" stroke-width="1.0" />
<text x="272.60" y="267.94" font-size="7.2" font-weight="bold" stroke="#000" stroke-width="0.3" text-anchor="end">2</text>
<line x1="272.30" y1="231.98" x2="275.50" y2="231.98" stroke="#000" stroke-width="1.0" />
<text x="272.60" y="234.58" font-size="7.2" font-weight="bold" stroke="#000" stroke-width="0.3" text-anchor="end">4</text>
<line x1="272.30" y1="198.62" x2="275.50" y2="198.62" stroke="#000" stroke-width="1.0" />
<text x="272.60" y="201.22" font-size="7.2" font-weight="bold" stroke="#000" stroke-width="0.3" text-anchor="end">6</text>
<text transform="translate(258.30,248.4) rotate(-90)" font-size="7.75" font-weight="bold" stroke="#000" stroke-width="0.3" text-anchor="middle">Relative contribution</text>
<line x1="303.25" y1="298.70" x2="303.25" y2="301.90" stroke="#000" stroke-width="1.0" />
<text x="303.55" y="308.90" font-size="7.25" font-weight="bold" stroke="#000" stroke-width="0.3" text-anchor="middle">B cells</text>
<line x1="358.50" y1="298.70" x2="358.50" y2="301.90" stroke="#000" stroke-width="1.0" />
<text x="358.80" y="308.90" font-size="7.25" font-weight="bold" stroke="#000" stroke-width="0.3" text-anchor="middle">T cells</text>
<line x1="413.75" y1="298.70" x2="413.75" y2="301.90" stroke="#000" stroke-width="1.0" />
<text x="414.05" y="308.90" font-size="7.25" font-weight="bold" stroke="#000" stroke-width="0.3" text-anchor="middle">Myeloid cells</text>
<text x="357.70" y="321.30" font-size="7.9" font-weight="bold" stroke="#000" stroke-width="0.3" text-anchor="middle">Cell type</text>
<rect x="446.80" y="201.25" width="10.90" height="4.90" fill="#ffffff" stroke="#000" stroke-width="0.9"/>
<text x="463.80" y="206.65" font-size="7.7">NS</text>
<rect x="446.80" y="212.90" width="10.90" height="4.90" fill="url(#chk)" stroke="#000" stroke-width="0.9"/>
<text x="463.80" y="218.30" font-size="7.7">Suz12</text>
<rect x="446.80" y="224.55" width="10.90" height="4.90" fill="#a9a9a9" stroke="#000" stroke-width="0.9"/>
<text x="463.80" y="229.95" font-size="7.7">Jarid2.1</text>
<rect x="446.80" y="236.20" width="10.90" height="4.90" fill="#cdcdcd" stroke="#000" stroke-width="0.9"/>
<text x="463.80" y="241.60" font-size="7.7">Jarid2.2</text>
</g>
<g id="panelD">
<text x="0.70" y="346.40" font-size="12.2" font-weight="bold" stroke="#000" stroke-width="0.3" textLength="7.80" lengthAdjust="spacingAndGlyphs">D</text>
<text x="14.40" y="346.40" font-size="11.53" stroke-width="0.3">Adult BM HSPC transplant at 16 weeks post-transplant</text>
<line x1="45.75" y1="480.30" x2="45.75" y2="488.40" stroke="#000" stroke-width="1.2" />
<line x1="43.05" y1="480.30" x2="48.45" y2="480.30" stroke="#000" stroke-width="1.2" />
<rect x="41.30" y="488.40" width="8.90" height="9.40" fill="#ffffff" stroke="#000" stroke-width="1.2"/>
<line x1="59.25" y1="433.10" x2="59.25" y2="457.70" stroke="#000" stroke-width="1.2" />
<line x1="56.55" y1="433.10" x2="61.95" y2="433.10" stroke="#000" stroke-width="1.2" />
<rect x="54.80" y="457.70" width="8.90" height="40.10" fill="url(#chk)" stroke="#000" stroke-width="1.2"/>
<text x="59.25" y="431.10" font-size="6.2" font-weight="bold" stroke="#000" stroke-width="0.3" text-anchor="middle">***</text>
<line x1="72.75" y1="427.40" x2="72.75" y2="461.30" stroke="#000" stroke-width="1.2" />
<line x1="70.05" y1="427.40" x2="75.45" y2="427.40" stroke="#000" stroke-width="1.2" />
<rect x="68.30" y="461.30" width="8.90" height="36.50" fill="#a9a9a9" stroke="#000" stroke-width="1.2"/>
<text x="72.75" y="425.40" font-size="6.2" font-weight="bold" stroke="#000" stroke-width="0.3" text-anchor="middle">***</text>
<line x1="86.25" y1="450.70" x2="86.25" y2="471.80" stroke="#000" stroke-width="1.2" />
<line x1="83.55" y1="450.70" x2="88.95" y2="450.70" stroke="#000" stroke-width="1.2" />
<rect x="81.80" y="471.80" width="8.90" height="26.00" fill="#cdcdcd" stroke="#000" stroke-width="1.2"/>
<text x="86.25" y="448.70" font-size="6.2" font-weight="bold" stroke="#000" stroke-width="0.3" text-anchor="middle">**</text>
<line x1="107.62" y1="483.50" x2="107.62" y2="488.40" stroke="#000" stroke-width="1.2" />
<line x1="104.92" y1="483.50" x2="110.32" y2="483.50" stroke="#000" stroke-width="1.2" />
<rect x="103.17" y="488.40" width="8.90" height="9.40" fill="#ffffff" stroke="#000" stroke-width="1.2"/>
<line x1="121.12" y1="432.30" x2="121.12" y2="452.80" stroke="#000" stroke-width="1.2" />
<line x1="118.42" y1="432.30" x2="123.82" y2="432.30" stroke="#000" stroke-width="1.2" />
<rect x="116.67" y="452.80" width="8.90" height="45.00" fill="url(#chk)" stroke="#000" stroke-width="1.2"/>
<text x="121.12" y="430.30" font-size="6.2" font-weight="bold" stroke="#000" stroke-width="0.3" text-anchor="middle">***</text>
<line x1="134.62" y1="440.10" x2="134.62" y2="463.80" stroke="#000" stroke-width="1.2" />
<line x1="131.92" y1="440.10" x2="137.32" y2="440.10" stroke="#000" stroke-width="1.2" />
<rect x="130.17" y="463.80" width="8.90" height="34.00" fill="#a9a9a9" stroke="#000" stroke-width="1.2"/>
<text x="134.62" y="438.10" font-size="6.2" font-weight="bold" stroke="#000" stroke-width="0.3" text-anchor="middle">**</text>
<line x1="148.12" y1="451.10" x2="148.12" y2="472.90" stroke="#000" stroke-width="1.2" />
<line x1="145.42" y1="451.10" x2="150.82" y2="451.10" stroke="#000" stroke-width="1.2" />
<rect x="143.67" y="472.90" width="8.90" height="24.90" fill="#cdcdcd" stroke="#000" stroke-width="1.2"/>
<line x1="169.49" y1="483.50" x2="169.49" y2="488.40" stroke="#000" stroke-width="1.2" />
<line x1="166.79" y1="483.50" x2="172.19" y2="483.50" stroke="#000" stroke-width="1.2" />
<rect x="165.04" y="488.40" width="8.90" height="9.40" fill="#ffffff" stroke="#000" stroke-width="1.2"/>
<line x1="182.99" y1="433.10" x2="182.99" y2="452.80" stroke="#000" stroke-width="1.2" />
<line x1="180.29" y1="433.10" x2="185.69" y2="433.10" stroke="#000" stroke-width="1.2" />
<rect x="178.54" y="452.80" width="8.90" height="45.00" fill="url(#chk)" stroke="#000" stroke-width="1.2"/>
<text x="182.99" y="431.10" font-size="6.2" font-weight="bold" stroke="#000" stroke-width="0.3" text-anchor="middle">***</text>
<line x1="196.49" y1="439.00" x2="196.49" y2="461.70" stroke="#000" stroke-width="1.2" />
<line x1="193.79" y1="439.00" x2="199.19" y2="439.00" stroke="#000" stroke-width="1.2" />
<rect x="192.04" y="461.70" width="8.90" height="36.10" fill="#a9a9a9" stroke="#000" stroke-width="1.2"/>
<text x="196.49" y="437.00" font-size="6.2" font-weight="bold" stroke="#000" stroke-width="0.3" text-anchor="middle">**</text>
<line x1="209.99" y1="447.90" x2="209.99" y2="469.70" stroke="#000" stroke-width="1.2" />
<line x1="207.29" y1="447.90" x2="212.69" y2="447.90" stroke="#000" stroke-width="1.2" />
<rect x="205.54" y="469.70" width="8.90" height="28.10" fill="#cdcdcd" stroke="#000" stroke-width="1.2"/>
<text x="209.99" y="445.90" font-size="6.2" font-weight="bold" stroke="#000" stroke-width="0.3" text-anchor="middle">*</text>
<line x1="231.36" y1="482.80" x2="231.36" y2="488.40" stroke="#000" stroke-width="1.2" />
<line x1="228.66" y1="482.80" x2="234.06" y2="482.80" stroke="#000" stroke-width="1.2" />
<rect x="226.91" y="488.40" width="8.90" height="9.40" fill="#ffffff" stroke="#000" stroke-width="1.2"/>
<line x1="244.86" y1="441.20" x2="244.86" y2="460.20" stroke="#000" stroke-width="1.2" />
<line x1="242.16" y1="441.20" x2="247.56" y2="441.20" stroke="#000" stroke-width="1.2" />
<rect x="240.41" y="460.20" width="8.90" height="37.60" fill="url(#chk)" stroke="#000" stroke-width="1.2"/>
<text x="244.86" y="439.20" font-size="6.2" font-weight="bold" stroke="#000" stroke-width="0.3" text-anchor="middle">***</text>
<line x1="258.36" y1="439.50" x2="258.36" y2="460.20" stroke="#000" stroke-width="1.2" />
<line x1="255.66" y1="439.50" x2="261.06" y2="439.50" stroke="#000" stroke-width="1.2" />
<rect x="253.91" y="460.20" width="8.90" height="37.60" fill="#a9a9a9" stroke="#000" stroke-width="1.2"/>
<text x="258.36" y="437.50" font-size="6.2" font-weight="bold" stroke="#000" stroke-width="0.3" text-anchor="middle">***</text>
<line x1="271.86" y1="451.70" x2="271.86" y2="470.80" stroke="#000" stroke-width="1.2" />
<line x1="269.16" y1="451.70" x2="274.56" y2="451.70" stroke="#000" stroke-width="1.2" />
<rect x="267.41" y="470.80" width="8.90" height="27.00" fill="#cdcdcd" stroke="#000" stroke-width="1.2"/>
<text x="271.86" y="449.70" font-size="6.2" font-weight="bold" stroke="#000" stroke-width="0.3" text-anchor="middle">**</text>
<line x1="293.23" y1="486.00" x2="293.23" y2="488.40" stroke="#000" stroke-width="1.2" />
<line x1="290.53" y1="486.00" x2="295.93" y2="486.00" stroke="#000" stroke-width="1.2" />
<rect x="288.78" y="488.40" width="8.90" height="9.40" fill="#ffffff" stroke="#000" stroke-width="1.2"/>
<line x1="306.73" y1="450.70" x2="306.73" y2="467.00" stroke="#000" stroke-width="1.2" />
<line x1="304.03" y1="450.70" x2="309.43" y2="450.70" stroke="#000" stroke-width="1.2" />
<rect x="302.28" y="467.00" width="8.90" height="30.80" fill="url(#chk)" stroke="#000" stroke-width="1.2"/>
<text x="306.73" y="448.70" font-size="6.2" font-weight="bold" stroke="#000" stroke-width="0.3" text-anchor="middle">**</text>
<line x1="320.23" y1="454.90" x2="320.23" y2="470.10" stroke="#000" stroke-width="1.2" />
<line x1="317.53" y1="454.90" x2="322.93" y2="454.90" stroke="#000" stroke-width="1.2" />
<rect x="315.78" y="470.10" width="8.90" height="27.70" fill="#a9a9a9" stroke="#000" stroke-width="1.2"/>
<text x="320.23" y="452.90" font-size="6.2" font-weight="bold" stroke="#000" stroke-width="0.3" text-anchor="middle">*</text>
<line x1="333.73" y1="462.70" x2="333.73" y2="476.00" stroke="#000" stroke-width="1.2" />
<line x1="331.03" y1="462.70" x2="336.43" y2="462.70" stroke="#000" stroke-width="1.2" />
<rect x="329.28" y="476.00" width="8.90" height="21.80" fill="#cdcdcd" stroke="#000" stroke-width="1.2"/>
<line x1="355.10" y1="480.30" x2="355.10" y2="488.40" stroke="#000" stroke-width="1.2" />
<line x1="352.40" y1="480.30" x2="357.80" y2="480.30" stroke="#000" stroke-width="1.2" />
<rect x="350.65" y="488.40" width="8.90" height="9.40" fill="#ffffff" stroke="#000" stroke-width="1.2"/>
<line x1="368.60" y1="450.30" x2="368.60" y2="469.70" stroke="#000" stroke-width="1.2" />
<line x1="365.90" y1="450.30" x2="371.30" y2="450.30" stroke="#000" stroke-width="1.2" />
<rect x="364.15" y="469.70" width="8.90" height="28.10" fill="url(#chk)" stroke="#000" stroke-width="1.2"/>
<text x="368.60" y="448.30" font-size="6.2" font-weight="bold" stroke="#000" stroke-width="0.3" text-anchor="middle">***</text>
<line x1="382.10" y1="390.00" x2="382.10" y2="440.50" stroke="#000" stroke-width="1.2" />
<line x1="379.40" y1="390.00" x2="384.80" y2="390.00" stroke="#000" stroke-width="1.2" />
<rect x="377.65" y="440.50" width="8.90" height="57.30" fill="#a9a9a9" stroke="#000" stroke-width="1.2"/>
<text x="382.10" y="388.00" font-size="6.2" font-weight="bold" stroke="#000" stroke-width="0.3" text-anchor="middle">***</text>
<line x1="395.60" y1="402.80" x2="395.60" y2="442.60" stroke="#000" stroke-width="1.2" />
<line x1="392.90" y1="402.80" x2="398.30" y2="402.80" stroke="#000" stroke-width="1.2" />
<rect x="391.15" y="442.60" width="8.90" height="55.20" fill="#cdcdcd" stroke="#000" stroke-width="1.2"/>
<text x="395.60" y="400.80" font-size="6.2" font-weight="bold" stroke="#000" stroke-width="0.3" text-anchor="middle">***</text>
<line x1="36.30" y1="488.80" x2="405.00" y2="488.80" stroke="#000" stroke-width="1.1" stroke-dasharray="4 3"/>
<line x1="35.80" y1="369.80" x2="35.80" y2="498.30" stroke="#000" stroke-width="1.15" />
<line x1="35.30" y1="497.80" x2="404.60" y2="497.80" stroke="#000" stroke-width="1.15" />
<line x1="32.20" y1="497.80" x2="35.80" y2="497.80" stroke="#000" stroke-width="1.0" />
<text x="30.40" y="501.10" font-size="9.2" font-weight="bold" stroke="#000" stroke-width="0.3" text-anchor="end">0</text>
<line x1="32.20" y1="479.58" x2="35.80" y2="479.58" stroke="#000" stroke-width="1.0" />
<text x="30.40" y="482.88" font-size="9.2" font-weight="bold" stroke="#000" stroke-width="0.3" text-anchor="end">2</text>
<line x1="32.20" y1="461.36" x2="35.80" y2="461.36" stroke="#000" stroke-width="1.0" />
<text x="30.40" y="464.66" font-size="9.2" font-weight="bold" stroke="#000" stroke-width="0.3" text-anchor="end">4</text>
<line x1="32.20" y1="443.14" x2="35.80" y2="443.14" stroke="#000" stroke-width="1.0" />
<text x="30.40" y="446.44" font-size="9.2" font-weight="bold" stroke="#000" stroke-width="0.3" text-anchor="end">6</text>
<line x1="32.20" y1="424.92" x2="35.80" y2="424.92" stroke="#000" stroke-width="1.0" />
<text x="30.40" y="428.22" font-size="9.2" font-weight="bold" stroke="#000" stroke-width="0.3" text-anchor="end">8</text>
<line x1="32.20" y1="406.70" x2="35.80" y2="406.70" stroke="#000" stroke-width="1.0" />
<text x="30.40" y="410.00" font-size="9.2" font-weight="bold" stroke="#000" stroke-width="0.3" text-anchor="end">10</text>
<line x1="32.20" y1="388.48" x2="35.80" y2="388.48" stroke="#000" stroke-width="1.0" />
<text x="30.40" y="391.78" font-size="9.2" font-weight="bold" stroke="#000" stroke-width="0.3" text-anchor="end">12</text>
<line x1="32.20" y1="370.26" x2="35.80" y2="370.26" stroke="#000" stroke-width="1.0" />
<text x="30.40" y="373.56" font-size="9.2" font-weight="bold" stroke="#000" stroke-width="0.3" text-anchor="end">14</text>
<text transform="translate(13.4,434.2) rotate(-90)" font-size="10.1" font-weight="bold" stroke="#000" stroke-width="0.3" text-anchor="middle">Relative contribution</text>
<line x1="66.00" y1="497.80" x2="66.00" y2="501.40" stroke="#000" stroke-width="1.0" />
<text x="66.40" y="511.60" font-size="9.45" font-weight="bold" stroke="#000" stroke-width="0.3" text-anchor="middle">LT-HSC</text>
<line x1="127.87" y1="497.80" x2="127.87" y2="501.40" stroke="#000" stroke-width="1.0" />
<text x="128.27" y="511.60" font-size="9.45" font-weight="bold" stroke="#000" stroke-width="0.3" text-anchor="middle">HSPC</text>
<line x1="189.74" y1="497.80" x2="189.74" y2="501.40" stroke="#000" stroke-width="1.0" />
<text x="190.14" y="511.60" font-size="9.45" font-weight="bold" stroke="#000" stroke-width="0.3" text-anchor="middle">Myeloid Prog</text>
<line x1="251.61" y1="497.80" x2="251.61" y2="501.40" stroke="#000" stroke-width="1.0" />
<text x="252.01" y="511.60" font-size="9.45" font-weight="bold" stroke="#000" stroke-width="0.3" text-anchor="middle">Mat Myeloid</text>
<line x1="313.48" y1="497.80" x2="313.48" y2="501.40" stroke="#000" stroke-width="1.0" />
<text x="313.88" y="511.60" font-size="9.45" font-weight="bold" stroke="#000" stroke-width="0.3" text-anchor="middle">B cells</text>
<line x1="375.35" y1="497.80" x2="375.35" y2="501.40" stroke="#000" stroke-width="1.0" />
<text x="375.75" y="511.60" font-size="9.45" font-weight="bold" stroke="#000" stroke-width="0.3" text-anchor="middle">T cells</text>
<text x="220.60" y="526.90" font-size="9.9" font-weight="bold" stroke="#000" stroke-width="0.3" text-anchor="middle">Cell type</text>
<line x1="41.90" y1="372.20" x2="270.50" y2="372.20" stroke="#000" stroke-width="1.1" />
<line x1="288.00" y1="372.20" x2="339.50" y2="372.20" stroke="#000" stroke-width="1.1" />
<line x1="353.20" y1="372.20" x2="404.60" y2="372.20" stroke="#000" stroke-width="1.1" />
<text x="161.00" y="367.00" font-size="9.55" text-anchor="middle">Bone marrow</text>
<text x="314.50" y="367.60" font-size="9.55" text-anchor="middle">Spleen</text>
<text x="380.20" y="368.40" font-size="9.55" text-anchor="middle">Thymus</text>
<rect x="422.90" y="382.80" width="13.80" height="6.70" fill="#ffffff" stroke="#000" stroke-width="1.0"/>
<text x="444.30" y="389.70" font-size="10.0">NS</text>
<text x="464.00" y="390.80" font-size="9.6">(n = 9)</text>
<rect x="422.90" y="397.80" width="13.80" height="6.70" fill="url(#chk)" stroke="#000" stroke-width="1.0"/>
<text x="444.30" y="404.70" font-size="10.0">Suz12</text>
<text x="479.40" y="405.80" font-size="9.6">(n = 9)</text>
<rect x="422.90" y="412.80" width="13.80" height="6.70" fill="#a9a9a9" stroke="#000" stroke-width="1.0"/>
<text x="444.30" y="419.70" font-size="10.0">Jarid2.1</text>
<text x="484.50" y="420.80" font-size="9.6">(n = 9)</text>
<rect x="422.90" y="427.80" width="13.80" height="6.70" fill="#cdcdcd" stroke="#000" stroke-width="1.0"/>
<text x="444.30" y="434.70" font-size="10.0">Jarid2.2</text>
<text x="487.20" y="435.80" font-size="9.6">(n = 10)</text>
</g>
</g>
</svg></body></html>
